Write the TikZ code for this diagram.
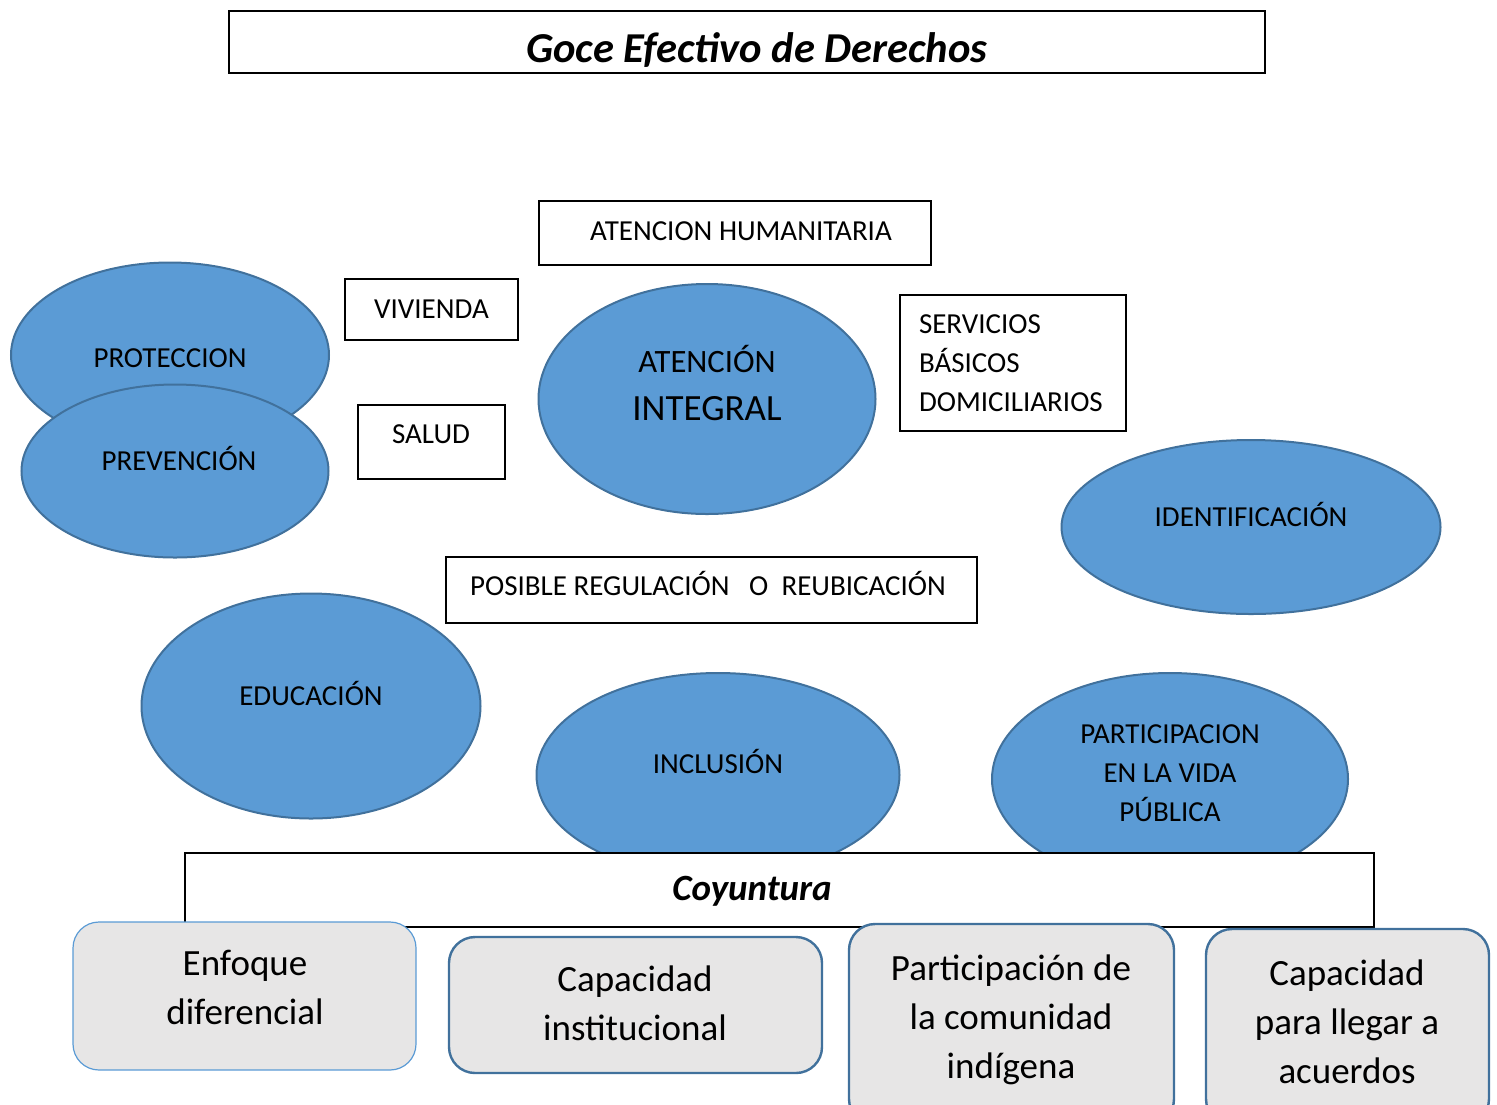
\documentclass[tikz,border=0pt]{standalone}
\usepackage{fontspec}
\setmainfont{Carlito}
\usetikzlibrary{shapes.geometric}

\definecolor{blobfill}{HTML}{5B9BD5}
\definecolor{blobline}{HTML}{41719C}
\definecolor{cardfill}{HTML}{E7E6E6}

\begin{document}
\begin{tikzpicture}[x=0.5pt, y=-0.5pt,
    blob/.style={ellipse, draw=blobline, fill=blobfill, line width=1pt, inner sep=0pt},
    tag/.style={font=\fontsize{14.5}{19.5}\selectfont, align=center, inner sep=0pt},
    frame/.style={draw, line width=1pt, fill=white, inner sep=0pt},
    card/.style={draw=blobline, fill=cardfill, line width=1.2pt, rounded corners=13pt, inner sep=0pt},
    cardtext/.style={font=\fontsize{18.5}{24.5}\selectfont, align=center, inner sep=0pt},
  ]
  \useasboundingbox (0,0) rectangle (1497,1104);

  % Title
  \node[frame, minimum width=518pt, minimum height=31pt] (goce) at (747,42) {};
  \node[font=\fontsize{21.3}{25}\selectfont\bfseries\itshape, inner sep=0pt] (goceT) at (757,50) {Goce Efectivo de Derechos};

  % Left ellipses
  \node[blob, minimum width=159pt, minimum height=92.5pt] (prot) at (170,355) {};
  \node[tag] (protT) at (170,358) {PROTECCION};
  \node[blob, minimum width=153.5pt, minimum height=86.5pt] (prev) at (175,471) {};
  \node[tag] (prevT) at (179,458) {PREVENCIÓN};

  % Small boxes
  \node[frame, minimum width=196pt, minimum height=32pt] (aten) at (735,233) {};
  \node[tag] (atenT) at (741,231) {ATENCION HUMANITARIA};
  \node[frame, tag, draw, minimum width=86.5pt, minimum height=30.5pt] (viv) at (431.5,309.5) {VIVIENDA};
  \node[frame, minimum width=73.5pt, minimum height=37pt] (salud) at (431.5,442) {};
  \node[tag] (saludT) at (431,434) {SALUD};
  \node[frame, tag, draw, align=left, text width=94pt, minimum width=113pt, minimum height=68pt] (serv) at (1013,363)
    {SERVICIOS\\BÁSICOS\\DOMICILIARIOS};

  % Centre ellipse
  \node[blob, minimum width=168.5pt, minimum height=115pt] (integ) at (707,399) {};
  \node[tag, font=\fontsize{16.3}{20}\selectfont] (integA) at (707,359) {ATENCIÓN};
  \node[tag, font=\fontsize{18.5}{22}\selectfont] (integB) at (707,409) {INTEGRAL};

  \node[blob, minimum width=189.5pt, minimum height=87pt] (ident) at (1251,527) {};
  \node[tag] (identT) at (1251,514) {IDENTIFICACIÓN};

  \node[frame, minimum width=265.5pt, minimum height=33pt] (posible) at (711.5,590) {};
  \node[tag] (posibleT) at (708,583) {POSIBLE REGULACIÓN\ \ \ O\ \ REUBICACIÓN};

  % Lower ellipses
  \node[blob, minimum width=169.5pt, minimum height=112.5pt] (educ) at (311,706) {};
  \node[tag] (educT) at (311,693) {EDUCACIÓN};
  \node[blob, minimum width=181.5pt, minimum height=102pt] (incl) at (718,775) {};
  \node[tag] (inclT) at (718,761) {INCLUSIÓN};
  \node[blob, minimum width=178pt, minimum height=106pt] (part) at (1170,779) {};
  \node[tag] (partT) at (1170,773) {PARTICIPACION\\EN LA VIDA\\PÚBLICA};

  % Coyuntura
  \node[frame, line width=1.3pt, minimum width=594.5pt, minimum height=37pt] (coy) at (779.5,890) {};
  \node[font=\fontsize{18.5}{22}\selectfont\bfseries\itshape, inner sep=0pt] (coyT) at (752,891) {Coyuntura};

  % Cards
  \node[card, draw=blobfill, line width=0.6pt, minimum width=171.5pt, minimum height=74pt] (enf) at (244.5,996) {};
  \node[cardtext] (enfT) at (245,987.5) {Enfoque\\diferencial};
  \node[card, minimum width=186.5pt, minimum height=68pt] (capi) at (635.5,1005) {};
  \node[cardtext] (capiT) at (635,1003.5) {Capacidad\\institucional};
  \node[card, minimum width=162.5pt, minimum height=100.5pt] (partc) at (1011.5,1024.5) {};
  \node[cardtext] (partcT) at (1011,1020) {Participación de\\la comunidad\\indígena};
  \node[card, minimum width=141.5pt, minimum height=98pt] (acu) at (1347.5,1027) {};
  \node[cardtext] (acuT) at (1347,1022) {Capacidad\\para llegar a\\acuerdos};
\end{tikzpicture}
\end{document}
